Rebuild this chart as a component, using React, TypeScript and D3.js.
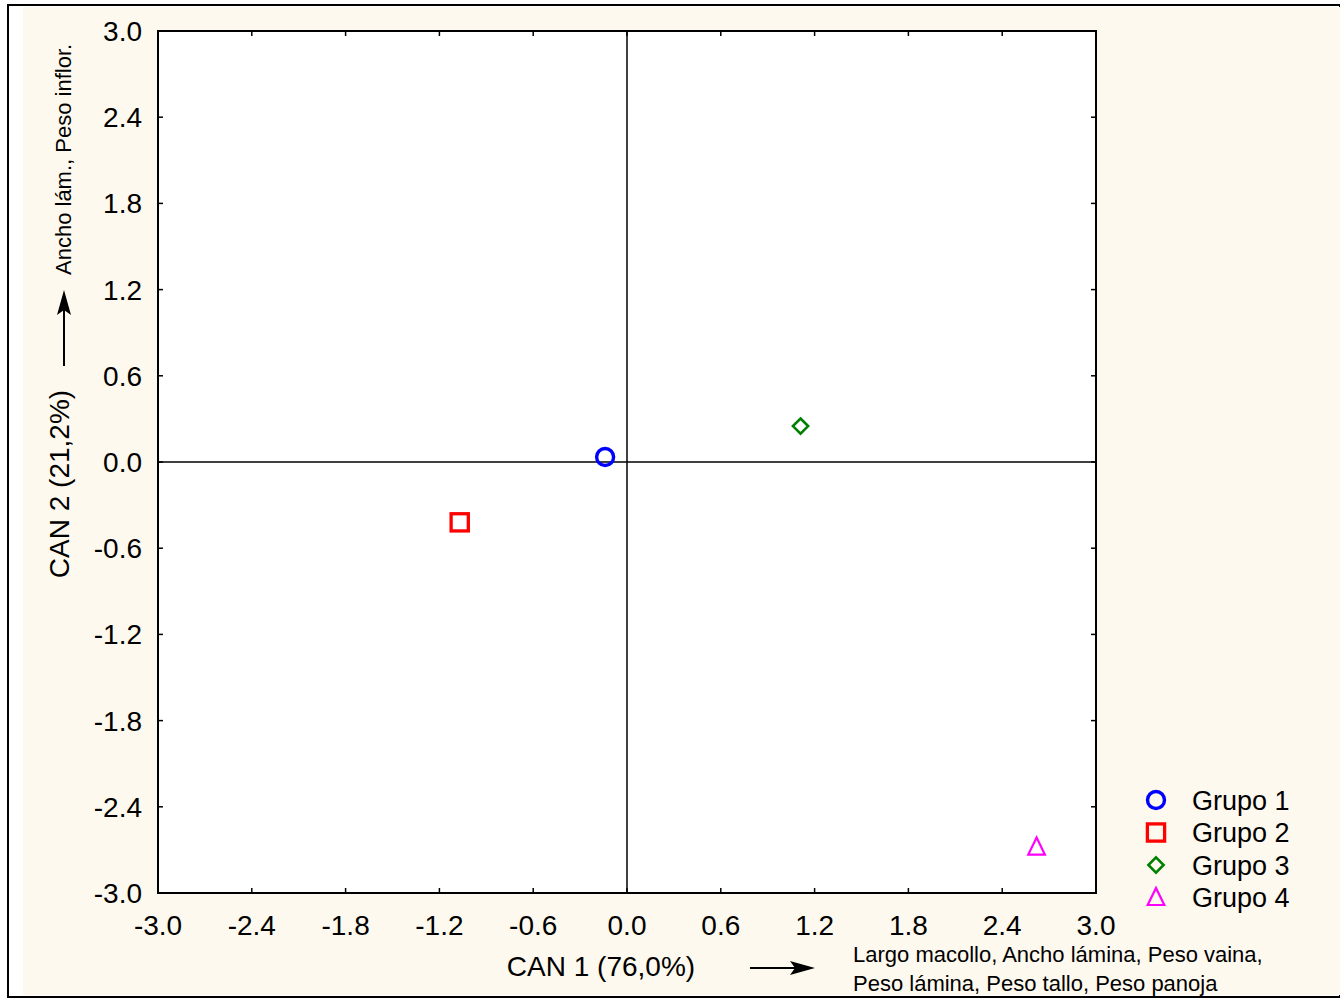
import React from "react";
import * as d3 from "d3";

const groups = ["Grupo 1", "Grupo 2", "Grupo 3", "Grupo 4"];
const can1 = [-0.14, -1.07, 1.11, 2.62];
const can2 = [0.035, -0.42, 0.25, -2.68];
const colors = ["#0000FF", "#FF0000", "#008000", "#FF00FF"];
const shapes = ["circle", "square", "diamond", "triangle"];
const ticks = [-3.0, -2.4, -1.8, -1.2, -0.6, 0.0, 0.6, 1.2, 1.8, 2.4, 3.0];
const xTitle = "CAN 1 (76,0%)";
const yTitle = "CAN 2 (21,2%)";
const xNote = ["Largo macollo, Ancho lámina, Peso vaina,", "Peso lámina, Peso tallo, Peso panoja"];
const yNote = "Ancho lám., Peso inflor.";

const W = 1340, H = 998;
const L = 158, R = 1096, T = 31, B = 893;
const FONT = "'Liberation Sans', Arial, sans-serif";

function Marker({ shape, x, y, color }: { shape: string; x: number; y: number; color: string }) {
  if (shape === "circle") return <circle cx={x} cy={y} r={8.5} fill="none" stroke={color} strokeWidth={3.4} />;
  if (shape === "square") return <rect x={x - 8.6} y={y - 8.6} width={17.2} height={17.2} fill="none" stroke={color} strokeWidth={3.3} />;
  if (shape === "diamond") return <path d={`M${x},${y - 7.6}L${x + 7.6},${y}L${x},${y + 7.6}L${x - 7.6},${y}Z`} fill="none" stroke={color} strokeWidth={2.6} />;
  return <path d={`M${x},${y - 9.5}L${x + 8.3},${y + 7.5}L${x - 8.3},${y + 7.5}Z`} fill="none" stroke={color} strokeWidth={2.2} />;
}

export default function App() {
  const x = d3.scaleLinear().domain([-3, 3]).range([L, R]);
  const y = d3.scaleLinear().domain([-3, 3]).range([B, T]);
  const fmt = (v: number) => d3.format(".1f")(v).replace("\u2212", "-");
  const tl = 5;
  return (
    <svg width={W} height={H} style={{ position: "absolute", left: 0, top: 0, display: "block" }} fontFamily={FONT}>
      <rect x={0} y={0} width={W} height={H} fill="#ffffff" />
      <rect x={8} y={5} width={W - 8} height={992} fill="#ffffff" stroke="#000" strokeWidth={2} />
      <rect x={23} y={7} width={W - 23} height={988} fill="#FEF9EE" />
      <rect x={L} y={T} width={R - L} height={B - T} fill="#fff" />
      {/* zero lines */}
      <line x1={L} x2={R} y1={y(0)} y2={y(0)} stroke="#000" strokeWidth={1.5} />
      <line x1={x(0)} x2={x(0)} y1={T} y2={B} stroke="#000" strokeWidth={1.5} />
      {/* ticks */}
      {ticks.map((t, i) => (
        <g key={"t" + i}>
          <line x1={x(t)} x2={x(t)} y1={B} y2={B - tl} stroke="#000" strokeWidth={1.5} />
          <line x1={x(t)} x2={x(t)} y1={T} y2={T + tl} stroke="#000" strokeWidth={1.5} />
          <line x1={L} x2={L + tl} y1={y(t)} y2={y(t)} stroke="#000" strokeWidth={1.5} />
          <line x1={R} x2={R - tl} y1={y(t)} y2={y(t)} stroke="#000" strokeWidth={1.5} />
          <text x={x(t)} y={935} textAnchor="middle" fontSize={28}>{fmt(t)}</text>
          <text x={142} y={y(t) + 10} textAnchor="end" fontSize={28}>{fmt(t)}</text>
        </g>
      ))}
      <rect x={L} y={T} width={R - L} height={B - T} fill="none" stroke="#000" strokeWidth={2} />
      {/* points */}
      {groups.map((g, i) => (
        <Marker key={g} shape={shapes[i]} x={x(can1[i])} y={y(can2[i])} color={colors[i]} />
      ))}
      {/* x title */}
      <text x={601} y={976} textAnchor="middle" fontSize={28}>{xTitle}</text>
      <line x1={750} x2={800} y1={968} y2={968} stroke="#000" strokeWidth={2} />
      <path d="M815,968L790,961L795,968L790,975Z" fill="#000" />
      <text x={853} y={962} fontSize={22}>{xNote[0]}</text>
      <text x={853} y={991} fontSize={22}>{xNote[1]}</text>
      {/* y title */}
      <text transform={`translate(69,484) rotate(-90)`} textAnchor="middle" fontSize={28}>{yTitle}</text>
      <line x1={64} x2={64} y1={366} y2={305} stroke="#000" strokeWidth={2} />
      <path d="M64,290L57,315L64,310L71,315Z" fill="#000" />
      <text transform={`translate(71,275) rotate(-90)`} fontSize={22}>{yNote}</text>
      {/* legend */}
      {groups.map((g, i) => (
        <g key={"l" + g}>
          <Marker shape={shapes[i]} x={1156} y={800 + i * 32.5} color={colors[i]} />
          <text x={1192} y={800 + i * 32.5 + 9.5} fontSize={27}>{g}</text>
        </g>
      ))}
    </svg>
  );
}
